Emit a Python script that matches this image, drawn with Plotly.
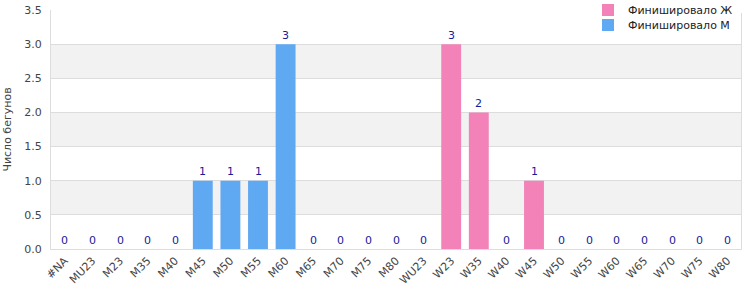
import plotly.graph_objects as go

categories = ["#NA", "MU23", "M23", "M35", "M40", "M45", "M50", "M55", "M60", "M65",
              "M70", "M75", "M80", "WU23", "W23", "W35", "W40", "W45", "W50", "W55",
              "W60", "W65", "W70", "W75", "W80"]
men_cats = categories[:13]
men_vals = [0, 0, 0, 0, 0, 1, 1, 1, 3, 0, 0, 0, 0]
women_cats = categories[13:]
women_vals = [0, 3, 2, 0, 1, 0, 0, 0, 0, 0, 0, 0]
y_ticks = [0.0, 0.5, 1.0, 1.5, 2.0, 2.5, 3.0, 3.5]

FONT = "DejaVu Sans"
fig = go.Figure()
fig.add_trace(go.Bar(x=women_cats, y=women_vals, name="Финишировало Ж", legend="legend",
                     marker=dict(color="#f282b8", line=dict(width=0)), width=0.72))
fig.add_trace(go.Bar(x=men_cats, y=men_vals, name="Финишировало М", legend="legend2",
                     marker=dict(color="#5fa8f2", line=dict(width=0)), width=0.72))

all_cats = men_cats + women_cats
all_vals = men_vals + women_vals
annotations = []
for c, v in zip(all_cats, all_vals):
    annotations.append(dict(x=c, y=v, xref="x", yref="y", text=str(v), showarrow=False,
                            yanchor="middle", yshift=9,
                            font=dict(family=FONT, size=11, color="#1a1a99")))

shapes = []
for lo in [0.5, 1.5, 2.5]:
    shapes.append(dict(type="rect", xref="paper", yref="y", x0=0, x1=1, y0=lo, y1=lo + 0.5,
                       fillcolor="#f2f2f2", line=dict(width=0), layer="below"))

leg_common = dict(xref="container", yref="container", xanchor="left", yanchor="middle",
                  bgcolor="rgba(255,255,255,0)", borderwidth=0,
                  font=dict(family=FONT, size=11, color="#222"))

fig.update_layout(
    width=750, height=300,
    margin=dict(l=51, r=9, t=10, b=51, autoexpand=False),
    paper_bgcolor="white", plot_bgcolor="white",
    barmode="overlay",
    shapes=shapes,
    annotations=annotations,
    font=dict(family=FONT, size=11, color="#444"),
    showlegend=True,
    legend=dict(x=588 / 750, y=1 - 10 / 300, **leg_common),
    legend2=dict(x=588 / 750, y=1 - 25 / 300, **leg_common),
    xaxis=dict(categoryorder="array", categoryarray=categories, tickangle=-45,
               showgrid=False, showline=True, linecolor="#ddd", linewidth=1,
               ticks="", tickfont=dict(family=FONT, size=11, color="#444"),
               automargin=False, range=[-0.5, len(categories) - 0.5]),
    yaxis=dict(range=[0, 3.5], tickvals=y_ticks, ticktext=[f"{v:.1f}" for v in y_ticks],
               showgrid=True, gridcolor="#ddd", gridwidth=1, zeroline=False,
               showline=True, linecolor="#ddd", linewidth=1, mirror=True,
               ticks="", ticklabelstandoff=6, automargin=False,
               tickfont=dict(family=FONT, size=11, color="#444"),
               title=dict(text="Число бегунов", font=dict(family=FONT, size=11, color="#444"),
                          standoff=10)),
)
# white patch breaking the top frame behind the legend, as in the reference
fig.add_shape(type="rect", xref="paper", yref="paper", x0=(601 - 51) / 690, x1=(738 - 51) / 690,
              y0=1 - 1 / 239, y1=1 + 1 / 239, fillcolor="white", line=dict(width=0), layer="above")
fig.add_shape(type="rect", xref="paper", yref="paper", x0=(736 - 51) / 690, x1=(742 - 51) / 690,
              y0=1 - 3 / 239, y1=1 + 1 / 239, fillcolor="white", line=dict(width=0), layer="above")
fig.write_html("out.html")
